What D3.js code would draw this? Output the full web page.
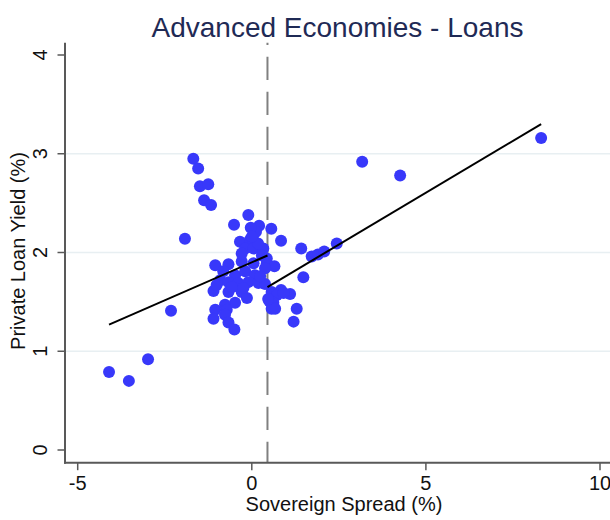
<!DOCTYPE html>
<html>
<head>
<meta charset="utf-8">
<script src="https://cdn.jsdelivr.net/npm/d3@7"></script>
<style>
  html, body { margin: 0; padding: 0; background: #fff; }
  svg { display: block; font-family: "Liberation Sans", Arial, sans-serif; }
</style>
</head>
<body>
<svg id="chart" width="610" height="520"></svg>
<script>
// Sovereign spread (%) and private loan yield (%) per observation
const spread = [
  -4.10, -3.53, -2.98, -2.32, -1.92, -1.68, -1.54, -1.49, -1.25, -1.37, -1.17,
  3.17, 4.26, 8.31,
  -0.10, -0.51, 0.21, 0.56, 0.05, 0.12, 0.84, -0.34, -0.05, -0.19, 0.05, 0.33, 0.18,
  1.42, 1.72, 1.90, 2.08, 2.44,
  -1.05, -0.67, -0.29, 0.05, 0.43, 0.65, 1.48,
  -0.91, -0.48, -0.19, 0.09, -0.67, -0.39, -0.10, 0.19, 0.38,
  -1.10, -0.67, -0.29, 0.57, 0.84, 1.10, -0.14, 0.72, 0.91,
  0.50, 0.62, -0.48, -0.77, -1.05, -0.72, 0.57, 0.67, 1.29,
  -1.10, -0.77, -0.67, 1.20, -0.50,
  -0.03, 0.00, -0.29, 0.29, 0.43, 0.38, -0.82, 0.24, -1.01, -0.57, -0.24, 0.47
];
const loanYield = [
  0.79, 0.70, 0.92, 1.41, 2.14, 2.95, 2.85, 2.67, 2.69, 2.53, 2.48,
  2.92, 2.78, 3.16,
  2.38, 2.28, 2.27, 2.24, 2.18, 2.21, 2.12, 2.11, 2.13, 2.04, 2.04, 2.04, 2.09,
  2.04, 1.96, 1.98, 2.01, 2.09,
  1.87, 1.88, 1.91, 1.89, 1.89, 1.86, 1.75,
  1.72, 1.77, 1.81, 1.77, 1.70, 1.69, 1.70, 1.69, 1.68,
  1.61, 1.60, 1.60, 1.60, 1.62, 1.58, 1.54, 1.57, 1.59,
  1.51, 1.49, 1.49, 1.47, 1.42, 1.42, 1.43, 1.43, 1.43,
  1.33, 1.37, 1.29, 1.30, 1.22,
  2.25, 2.16, 1.99, 1.97, 1.94, 1.84, 1.81, 1.76, 1.67, 1.65, 1.64, 1.53
];

// Threshold and the two fitted segments on either side of it
const threshold = 0.45;
const fitLeftX = [-4.10, threshold];
const fitLeftY = [1.27, 1.97];
const fitRightX = [threshold, 8.31];
const fitRightY = [1.65, 3.30];

const xTicks = [-5, 0, 5, 10];
const yTicks = [0, 1, 2, 3, 4];
const yGrid = [1, 2, 3];

const titleText = "Advanced Economies - Loans";
const xTitle = "Sovereign Spread (%)";
const yTitle = "Private Loan Yield (%)";

const svg = d3.select("#chart");
const box = { left: 65, right: 610, top: 42.7, bottom: 462.7 };

const x = d3.scaleLinear().domain([-5, 10]).range([77.7, 600]);
const y = d3.scaleLinear().domain([0, 4]).range([450, 55]);

const axisColor = "#595959";

// Title
svg.append("text")
  .attr("x", 337.5).attr("y", 37)
  .attr("text-anchor", "middle")
  .attr("font-size", 28)
  .attr("fill", "#1f2a55")
  .text(titleText);

// Horizontal gridlines
svg.append("g").selectAll("line").data(yGrid).join("line")
  .attr("x1", box.left).attr("x2", box.right)
  .attr("y1", d => y(d)).attr("y2", d => y(d))
  .attr("stroke", "#e8eff2").attr("stroke-width", 1.5);

// Vertical dashed threshold line
svg.append("line")
  .attr("x1", x(threshold)).attr("x2", x(threshold))
  .attr("y1", box.top).attr("y2", box.bottom)
  .attr("stroke", "#808080").attr("stroke-width", 2)
  .attr("stroke-dasharray", "23.3,11.7")
  .attr("stroke-dashoffset", 21);

// Scatter points
const pts = spread.map((s, i) => ({ s, v: loanYield[i] }));
svg.append("g").selectAll("circle").data(pts).join("circle")
  .attr("cx", d => x(d.s)).attr("cy", d => y(d.v))
  .attr("r", 6)
  .attr("fill", "#3838fa");

// Fitted lines
const line = d3.line().x(d => x(d[0])).y(d => y(d[1]));
[[fitLeftX, fitLeftY], [fitRightX, fitRightY]].forEach(([xs, ys]) => {
  svg.append("path")
    .attr("d", line(xs.map((v, i) => [v, ys[i]])))
    .attr("fill", "none")
    .attr("stroke", "#000")
    .attr("stroke-width", 2);
});

// Bottom axis
const xAxis = svg.append("g").attr("transform", `translate(0,${box.bottom})`);
xAxis.append("line")
  .attr("x1", box.left - 1).attr("x2", box.right)
  .attr("stroke", axisColor).attr("stroke-width", 2);
xAxis.selectAll("line.tick").data(xTicks).join("line")
  .attr("class", "tick")
  .attr("x1", d => x(d)).attr("x2", d => x(d))
  .attr("y1", 0).attr("y2", 7.5)
  .attr("stroke", axisColor).attr("stroke-width", 1.5);
xAxis.selectAll("text").data(xTicks).join("text")
  .attr("x", d => x(d)).attr("y", 27)
  .attr("text-anchor", "middle")
  .attr("font-size", 20)
  .attr("fill", "#111")
  .text(d => d);

// Left axis
const yAxis = svg.append("g").attr("transform", `translate(${box.left},0)`);
yAxis.append("line")
  .attr("y1", box.top).attr("y2", box.bottom + 1)
  .attr("stroke", axisColor).attr("stroke-width", 2);
yAxis.selectAll("line.tick").data(yTicks).join("line")
  .attr("class", "tick")
  .attr("x1", 0).attr("x2", -7.5)
  .attr("y1", d => y(d)).attr("y2", d => y(d))
  .attr("stroke", axisColor).attr("stroke-width", 1.5);
yAxis.selectAll("text").data(yTicks).join("text")
  .attr("transform", d => `translate(-18,${y(d)}) rotate(-90)`)
  .attr("text-anchor", "middle")
  .attr("font-size", 20)
  .attr("fill", "#111")
  .text(d => d);

// Axis titles
svg.append("text")
  .attr("x", 344).attr("y", 511)
  .attr("text-anchor", "middle")
  .attr("font-size", 20)
  .attr("fill", "#111")
  .text(xTitle);
svg.append("text")
  .attr("transform", "translate(25,251) rotate(-90)")
  .attr("text-anchor", "middle")
  .attr("font-size", 20)
  .attr("fill", "#111")
  .text(yTitle);
</script>
</body>
</html>
